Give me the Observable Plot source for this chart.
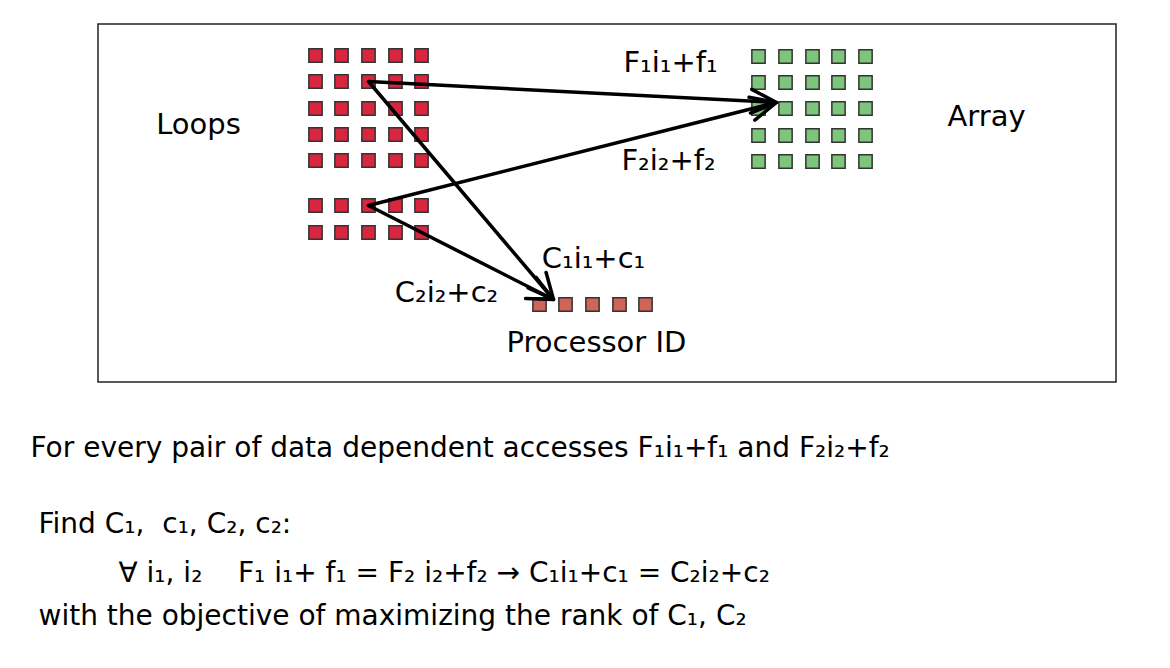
<!DOCTYPE html>
<html><head><meta charset="utf-8">
<script src="https://cdn.jsdelivr.net/npm/d3@7"></script>
<script src="https://cdn.jsdelivr.net/npm/@observablehq/plot@0.6"></script>
<style>body{margin:0;background:#fff}</style>
</head><body><div id="chart"></div>
<script>
// grid positions (pixel units)
const loopCols = [315, 341, 368, 395, 421];
const loopRows = [55, 81, 108, 134, 160, 205, 232];
const arrayCols = [758, 785, 812, 838, 865];
const arrayRows = [56, 82, 108, 135, 161];
const procCols = [539, 565, 592, 619, 645];
const procRow = 304;

const arrows = [
  {x1: 368, y1: 81, x2: 776, y2: 102},
  {x1: 368, y1: 205, x2: 776, y2: 102},
  {x1: 368, y1: 81, x2: 553, y2: 299},
  {x1: 368, y1: 205, x2: 553, y2: 299}
];

const labels = [
  {x: 198, y: 124, t: "Loops"},
  {x: 986, y: 116, t: "Array"},
  {x: 670, y: 62, t: "F\u2081i\u2081+f\u2081"},
  {x: 668, y: 160, t: "F\u2082i\u2082+f\u2082"},
  {x: 593, y: 258, t: "C\u2081i\u2081+c\u2081"},
  {x: 446, y: 292, t: "C\u2082i\u2082+c\u2082"},
  {x: 596, y: 342, t: "Processor ID"}
];

const textLines = [
  {x: 30, y: 448, t: "For every pair of data dependent accesses F\u2081i\u2081+f\u2081 and F\u2082i\u2082+f\u2082"},
  {x: 38, y: 524, t: "Find C\u2081,  c\u2081, C\u2082, c\u2082:"},
  {x: 118, y: 573, t: "\u2200 i\u2081, i\u2082    F\u2081 i\u2081+ f\u2081 = F\u2082 i\u2082+f\u2082 \u2192 C\u2081i\u2081+c\u2081 = C\u2082i\u2082+c\u2082"},
  {x: 38, y: 616, t: "with the objective of maximizing the rank of C\u2081, C\u2082"}
];

const loopCells = d3.cross(loopCols, loopRows).map(([x, y]) => ({x, y}));
const arrayCells = d3.cross(arrayCols, arrayRows).map(([x, y]) => ({x, y}));
const procCells = procCols.map(x => ({x, y: procRow}));

const cell = (data, fill) => Plot.dot(data, {x: "x", y: "y", symbol: "square", r: 7.5, fill, stroke: "#333", strokeWidth: 1.5});

const chart = Plot.plot({
  width: 1170, height: 668,
  margin: 0,
  x: {domain: [0, 1170], range: [0, 1170], axis: null},
  y: {domain: [0, 668], range: [0, 668], axis: null},
  style: {fontFamily: "DejaVu Sans", color: "#000"},
  marks: [
    Plot.rect([{x1: 98, x2: 1116, y1: 24, y2: 382}], {x1: "x1", x2: "x2", y1: "y1", y2: "y2", fill: "none", stroke: "#222", strokeWidth: 1.5}),
    cell(loopCells, "#d9263f"),
    cell(arrayCells, "#7cc57a"),
    cell(procCells, "#cf6459"),
    Plot.arrow(arrows, {x1: "x1", y1: "y1", x2: "x2", y2: "y2", stroke: "#000", strokeWidth: 3.5, headLength: 12, headAngle: 50, bend: 0}),
    Plot.text(labels, {x: "x", y: "y", text: "t", textAnchor: "middle", fontSize: 29, fill: "#000"}),
    Plot.text(textLines, {x: "x", y: "y", text: "t", textAnchor: "start", fontSize: 28, fill: "#000"})
  ]
});
document.querySelector("#chart").append(chart);
</script>
</body></html>
